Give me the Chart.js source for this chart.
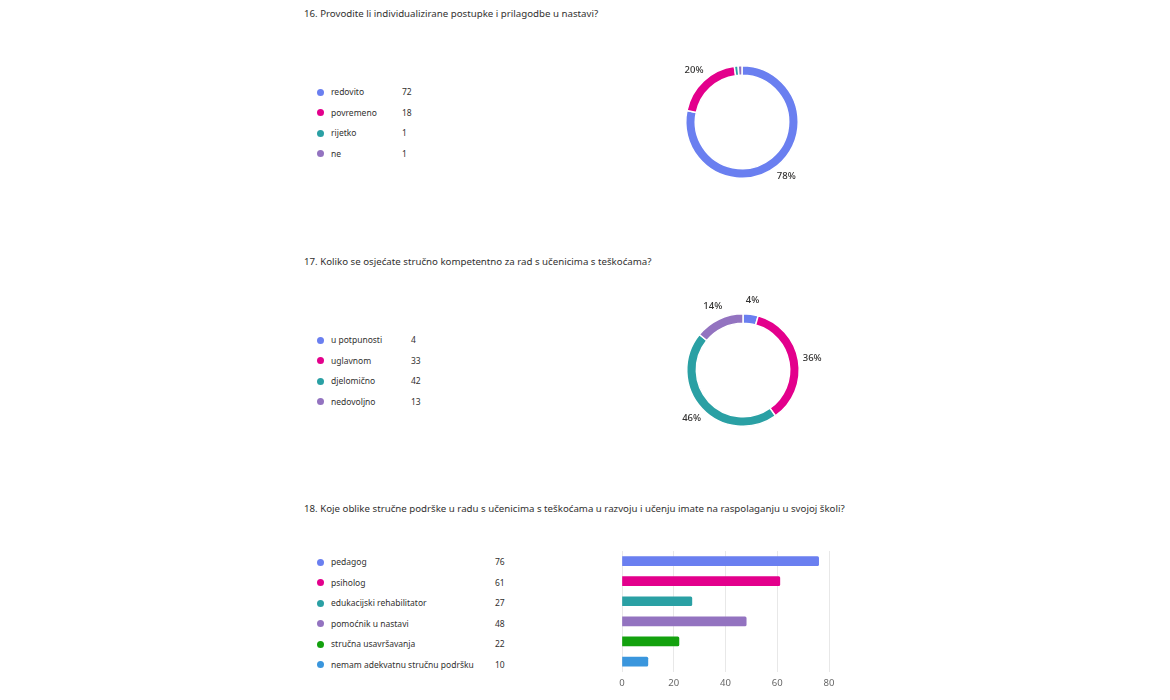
<!DOCTYPE html>
<html>
<head>
<meta charset="utf-8">
<script src="https://cdn.jsdelivr.net/npm/chart.js@4"></script>
<style>
  body { margin: 0; background: #fff; font-family: "Noto Sans", sans-serif; color: #333; }
  .wrap { position: relative; width: 1170px; height: 700px; overflow: hidden; }
  .title { position: absolute; left: 304px; font-size: 9.7px; color: #323130; white-space: nowrap; }
  .legend { position: absolute; font-size: 8.5px; color: #323130; }
  .row { position: absolute; left: 0; height: 14px; line-height: 14px; white-space: nowrap; }
  .dot { position: absolute; left: 0; top: 3.5px; width: 7px; height: 7px; border-radius: 50%; }
  .lbl { position: absolute; left: 14px; }
  .cnt { position: absolute; }
  canvas { position: absolute; }
</style>
</head>
<body>
<div class="wrap" id="wrap">
  <div class="title" style="top:7px">16. Provodite li individualizirane postupke i prilagodbe u nastavi?</div>
  <div class="title" style="top:255px">17. Koliko se osjećate stručno kompetentno za rad s učenicima s teškoćama?</div>
  <div class="title" style="top:502px">18. Koje oblike stručne podrške u radu s učenicima s teškoćama u razvoju i učenju imate na raspolaganju u svojoj školi?</div>
  <div class="legend" id="leg1" style="left:317px; top:85px"></div>
  <div class="legend" id="leg2" style="left:317px; top:333px"></div>
  <div class="legend" id="leg3" style="left:317px; top:555px"></div>
  <canvas id="c1" style="left:662px; top:42px"></canvas>
  <canvas id="c2" style="left:663px; top:290px"></canvas>
  <canvas id="c3" style="left:600px; top:540px"></canvas>
</div>
<script>
const boje = ["#6a7ff0", "#e3008c", "#2aa0a4", "#9373c0", "#13a10e", "#3a96dd"];

const kat16 = ["redovito", "povremeno", "rijetko", "ne"];
const vr16 = [72, 18, 1, 1];

const kat17 = ["u potpunosti", "uglavnom", "djelomično", "nedovoljno"];
const vr17 = [4, 33, 42, 13];

const kat18 = ["pedagog", "psiholog", "edukacijski rehabilitator", "pomoćnik u nastavi", "stručna usavršavanja", "nemam adekvatnu stručnu podršku"];
const vr18 = [76, 61, 27, 48, 22, 10];
const xTicks = [0, 20, 40, 60, 80];

function legenda(id, kat, vr, cntX) {
  const el = document.getElementById(id);
  kat.forEach((k, i) => {
    const row = document.createElement("div");
    row.className = "row";
    row.style.top = (i * 20.5) + "px";
    row.innerHTML = '<span class="dot" style="background:' + boje[i] + '"></span>' +
      '<span class="lbl">' + k + '</span>' +
      '<span class="cnt" style="left:' + cntX + 'px">' + vr[i] + '</span>';
    el.appendChild(row);
  });
}

legenda("leg1", kat16, vr16, 85);
legenda("leg2", kat17, vr17, 94);
legenda("leg3", kat18, vr18, 178);

// postoci izvan prstena
const postoci = {
  id: "postoci",
  afterDatasetsDraw(chart) {
    const ctx = chart.ctx;
    const ds = chart.data.datasets[0].data;
    const ukupno = ds.reduce((a, b) => a + b, 0);
    ctx.save();
    ctx.font = "500 9.5px 'Noto Sans'";
    ctx.fillStyle = "#323130";
    ctx.textAlign = "center";
    ctx.textBaseline = "middle";
    chart.getDatasetMeta(0).data.forEach((arc, i) => {
      const p = Math.round(ds[i] / ukupno * 100);
      if (p < 3) return;
      const kut = (arc.startAngle + arc.endAngle) / 2;
      const r = arc.outerRadius + 14;
      ctx.fillText(p + "%", arc.x + Math.cos(kut) * r, arc.y + Math.sin(kut) * r);
    });
    ctx.restore();
  }
};

function krug(id, kat, vr) {
  const c = document.getElementById(id);
  c.width = 160; c.height = 160;
  new Chart(c, {
    type: "doughnut",
    data: {
      labels: kat,
      datasets: [{
        data: vr,
        backgroundColor: boje.slice(0, vr.length),
        borderColor: "#fff",
        borderWidth: 1.5
      }]
    },
    options: {
      responsive: false,
      animation: false,
      cutout: "83%",
      layout: { padding: 23 },
      plugins: { legend: { display: false }, tooltip: { enabled: false } }
    },
    plugins: [postoci]
  });
}

krug("c1", kat16, vr16);
krug("c2", kat17, vr17);

const c3 = document.getElementById("c3");
c3.width = 250; c3.height = 155;
new Chart(c3, {
  type: "bar",
  data: {
    labels: kat18,
    datasets: [{
      data: vr18,
      backgroundColor: boje,
      borderColor: boje,
      borderWidth: 0,
      borderRadius: 1.5,
      barThickness: 9
    }]
  },
  options: {
    indexAxis: "y",
    responsive: false,
    animation: false,
    layout: { padding: { left: 22, right: 21, top: 11, bottom: 0 } },
    plugins: { legend: { display: false }, tooltip: { enabled: false } },
    scales: {
      x: {
        min: 0,
        max: 80,
        afterBuildTicks: ax => { ax.ticks = xTicks.map(v => ({ value: v })); },
        grid: { color: "#e8e8e8", drawTicks: false },
        border: { display: false },
        ticks: { color: "#666", font: { family: "Noto Sans", size: 9.5 }, padding: 6 }
      },
      y: {
        display: false,
        grid: { display: false }
      }
    }
  }
});
</script>
</body>
</html>
